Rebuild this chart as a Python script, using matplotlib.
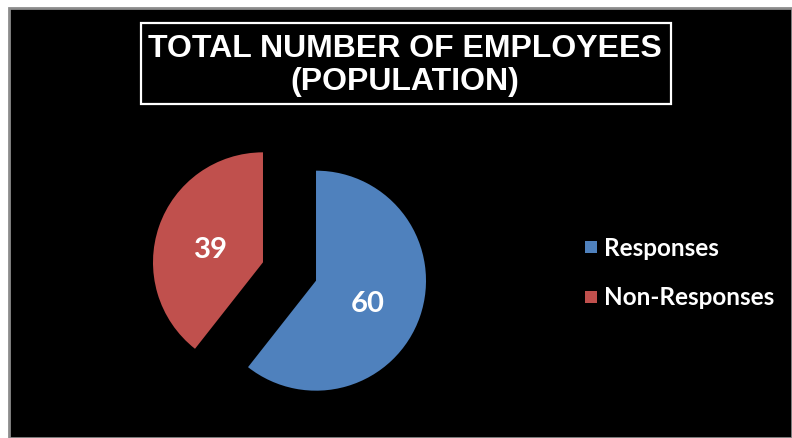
import matplotlib
matplotlib.use("Agg")
import matplotlib.pyplot as plt
from matplotlib.patches import Rectangle

categories = ["Responses", "Non-Responses"]
values = [60, 39]
colors = ["#4F81BD", "#C0504D"]
title_text = "TOTAL NUMBER OF EMPLOYEES\n(POPULATION)"

W, H = 792, 439
fig = plt.figure(figsize=(W / 100, H / 100), dpi=100, facecolor="white")

# dark chart area with a thin grey frame on the top and left
fig.patches.append(Rectangle((9 / W, 0), 1 - 9 / W, 1 - 9 / H,
                             transform=fig.transFigure, facecolor="black",
                             edgecolor="#8c8c8c", linewidth=2, zorder=-5))

# pie axes: radius ~110 px, centre near (289, 272)
r_px = 110
cx, cy = 289.5, 272.5
size = 2 * r_px
ax = fig.add_axes([(cx - r_px) / W, 1 - (cy + r_px) / H, size / W, size / H])
ax.set_facecolor("none")
ax.set_zorder(2)

wedges, texts, autotexts = ax.pie(
    values, colors=colors, startangle=90, counterclock=False,
    explode=[0.255, 0.255], radius=1.0,
    autopct=lambda p: f"{round(p * sum(values) / 100):d}",
    pctdistance=0.5,
    textprops=dict(color="white", fontsize=21, fontweight="bold",
                   family=["Lato", "DejaVu Sans"]),
)
# centre the digits optically (no descenders)
for t in autotexts:
    x, y = t.get_position()
    t.set_position((x, y - 4.5 / r_px))
ax.set_xlim(-1, 1)
ax.set_ylim(-1, 1)
ax.set_aspect("equal")
ax.axis("off")

# title in an outlined box
fig.text(405 / W, 1 - 65.5 / H, title_text, ha="center", va="center",
         color="white", fontsize=23, fontweight="bold",
         family=["Liberation Sans", "DejaVu Sans"], linespacing=1.15)
fig.patches.append(Rectangle((141 / W, 1 - 105 / H), (671 - 141) / W, (105 - 24) / H,
                             transform=fig.transFigure, facecolor="none",
                             edgecolor="white", linewidth=1.6, zorder=3))

# legend
leg_y = [248, 298]
for name, col, y in zip(categories, colors, leg_y):
    fig.patches.append(Rectangle((585 / W, 1 - (y + 6) / H), 12 / W, 12 / H,
                                 transform=fig.transFigure, facecolor=col,
                                 edgecolor="none", zorder=3))
    fig.text(604 / W, 1 - y / H, name, ha="left", va="center", color="white",
             fontsize=17.5, fontweight="bold", family=["Lato", "DejaVu Sans"])

fig.savefig("out.png", dpi=100, facecolor="white")
